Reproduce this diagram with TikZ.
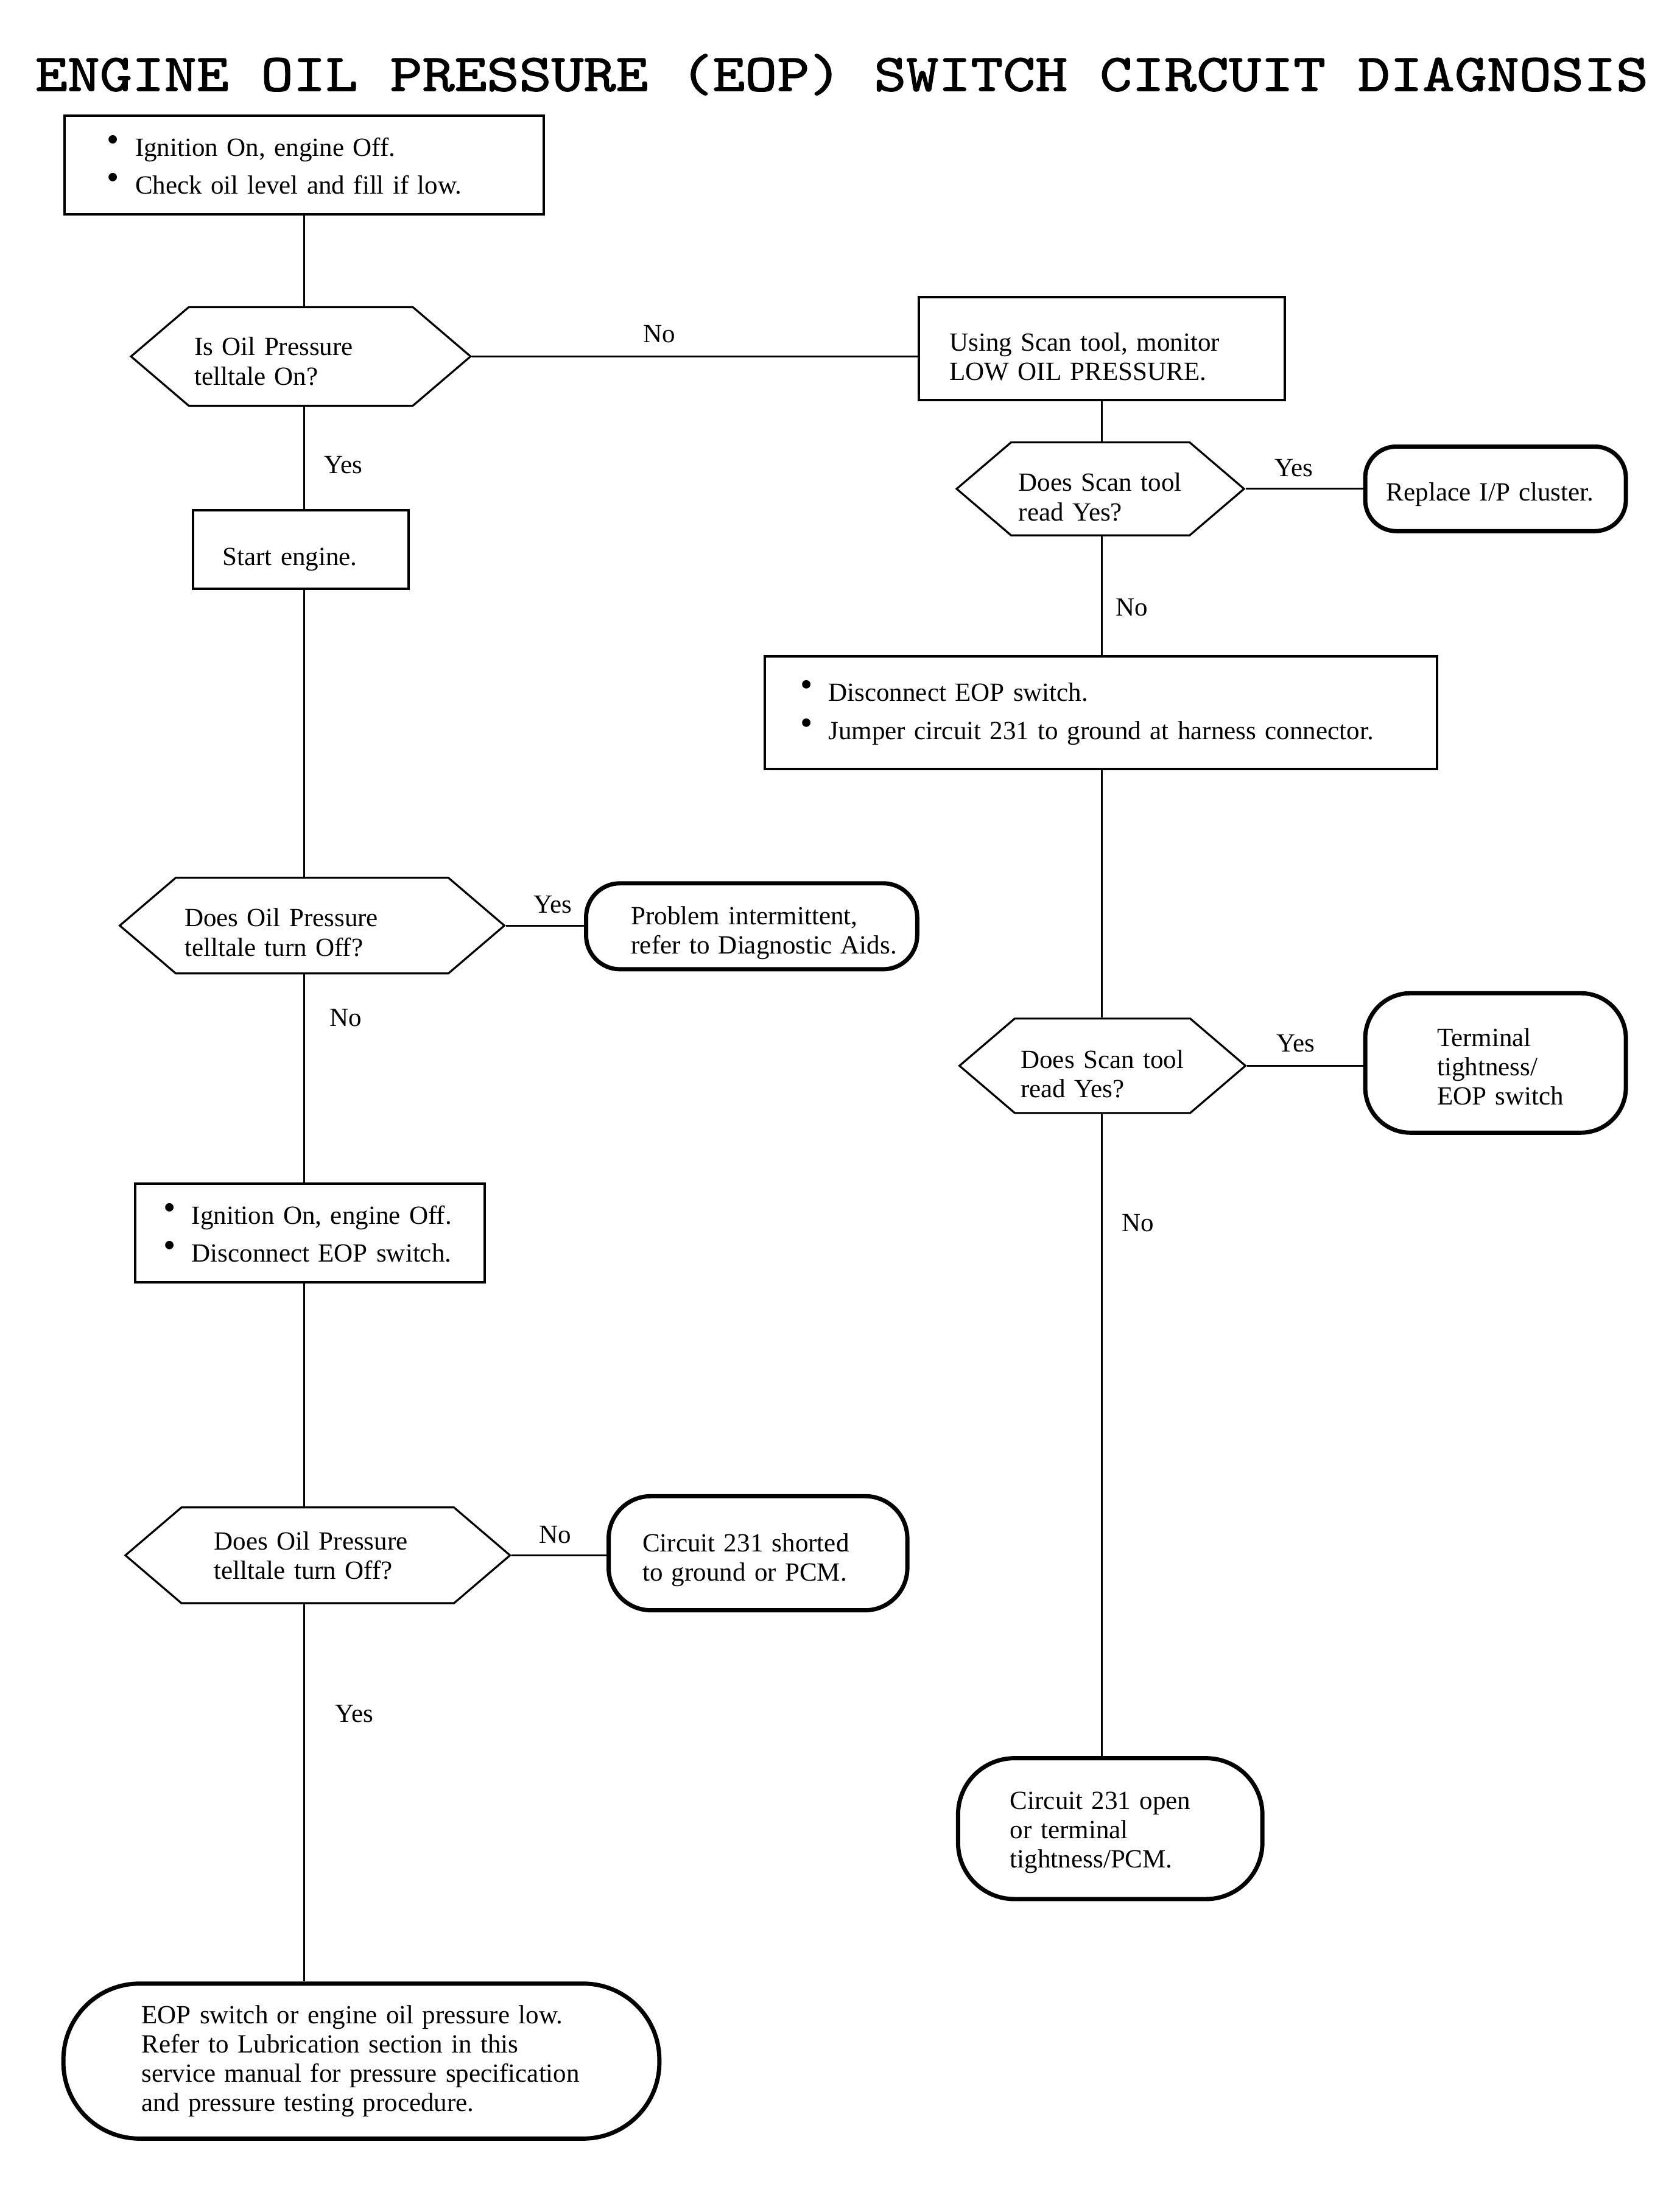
\documentclass[tikz,border=0pt]{standalone}
\usepackage{fontspec}
\setmainfont{Liberation Serif}
\newfontfamily\titlefont[FakeStretch=1.16, FakeBold=1.6]{lmmono10-regular.otf}
\usetikzlibrary{shapes.symbols}

\newcommand{\bul}{\makebox[10pt][l]{\raisebox{1.75pt}{\fontsize{12.5}{12.5}\selectfont\textbullet}}}

\tikzset{
	every node/.style={font=\fontsize{9.3pt}{10.4pt}\selectfont},
	stepbox/.style={draw, line width=.85pt, rectangle, align=left, inner ysep=0pt},
	query/.style={draw, line width=.7pt, signal, signal to=east and west, signal pointer angle=81, align=left, inner sep=0pt},
	endbox/.style={draw, line width=1.5pt, rectangle, align=left, inner ysep=0pt},
	sink/.style={execute at begin node={\rule{0pt}{#1}}},
	wire/.style={line width=.6pt},
	lbl/.style={inner sep=0pt},
}

\begin{document}
\begin{tikzpicture}[x=.5pt,y=-.5pt]
	\useasboundingbox (0,0) rectangle (1192,1568);
	\node[font=\titlefont\fontsize{18.8pt}{19pt}\selectfont] (title) at (597.5,53) {ENGINE OIL PRESSURE (EOP) SWITCH CIRCUIT DIAGNOSIS};
	
	% left column
	\node[stepbox, inner xsep=15pt, text width=140pt, minimum height=35pt] (check) at (216,117)
		{\bul Ignition On, engine Off.\\[3.1pt]\bul Check oil level and fill if low.};
	\node[query, sink=9.9pt, text width=75.5pt, minimum width=120.5pt, minimum height=35pt] (telltale) at (213.5,253)
		{Is Oil Pressure\\telltale On?};
	\node[stepbox, sink=13.3pt, inner xsep=10.5pt, text width=55.5pt, minimum height=28pt] (start) at (213.5,390) {Start engine.};
	\node[query, sink=11.3pt, text width=90.5pt, minimum width=136.5pt, minimum height=34pt] (offrun) at (221.5,657)
		{Does Oil Pressure\\telltale turn Off?};
	\node[endbox, sink=11.3pt, rounded corners=12pt, inner xsep=16pt, text width=85.5pt, minimum height=30.5pt] (intermit) at (533.5,657.5)
		{\mbox{Problem intermittent,}\\\mbox{refer to Diagnostic Aids.}};
	\node[stepbox, inner xsep=10pt, text width=104pt, minimum height=35pt] (unplug) at (220,875)
		{\bul Ignition On, engine Off.\\[3.1pt]\bul Disconnect EOP switch.};
	\node[query, text width=73.5pt, minimum width=136.5pt, minimum height=34pt] (offkey) at (225.5,1104)
		{Does Oil Pressure\\telltale turn Off?};
	\node[endbox, sink=11.3pt, rounded corners=15pt, inner xsep=12pt, text width=82pt, minimum height=40.5pt] (shorted) at (538,1102.5)
		{Circuit 231 shorted\\to ground or PCM.};
	\node[endbox, rounded corners=27pt, inner xsep=27.75pt, text width=156pt, minimum height=55pt] (lowpress) at (256.5,1463)
		{EOP switch or engine oil pressure low.\\Refer to Lubrication section in this\\service manual for pressure specification\\and pressure testing procedure.};
	
	% right column
	\node[stepbox, sink=12.3pt, inner xsep=11pt, text width=108pt, minimum height=36.5pt] (monitor) at (782,247.5)
		{Using Scan tool, monitor\\LOW OIL PRESSURE.};
	\node[query, sink=12.3pt, text width=58pt, minimum width=102pt, minimum height=33pt] (scanA) at (781,347)
		{Does Scan tool\\read Yes?};
	\node[endbox, sink=10.4pt, rounded corners=11pt, inner xsep=7.5pt, text width=77.5pt, minimum height=30pt] (cluster) at (1061.5,347)
		{Replace I/P cluster.};
	\node[stepbox, inner xsep=12.5pt, text width=213.5pt, minimum height=40pt] (jumper) at (781.5,506)
		{\bul Disconnect EOP switch.\\[3.1pt]\bul Jumper circuit 231 to ground at harness connector.};
	\node[query, sink=12.3pt, text width=58pt, minimum width=101.5pt, minimum height=33.5pt] (scanB) at (782.5,756.5)
		{Does Scan tool\\read Yes?};
	\node[endbox, sink=8.9pt, rounded corners=16pt, inner xsep=25.5pt, text width=41.5pt, minimum height=49.5pt] (tight) at (1061.5,754.5)
		{Terminal\\tightness/\\\mbox{EOP switch}};
	\node[endbox, sink=8.9pt, rounded corners=20pt, inner xsep=18.5pt, text width=71pt, minimum height=50pt] (opencir) at (788,1298)
		{Circuit 231 open\\or terminal\\tightness/PCM.};
	
	% connectors
	\draw[wire] (check.south) -- (check.south |- telltale.north);
	\draw[wire] (check.south |- telltale.south) -- node[lbl, pos=.57, right=6.75pt] {Yes} (check.south |- start.north);
	\draw[wire] (check.south |- start.south) -- (check.south |- offrun.north);
	\draw[wire] (offrun.east) -- node[lbl, pos=.6, above=4pt] {Yes} (offrun.east -| intermit.west);
	\draw[wire] (check.south |- offrun.south) -- node[lbl, pos=.21, right=8.75pt] {No} (check.south |- unplug.north);
	\draw[wire] (check.south |- unplug.south) -- (check.south |- offkey.north);
	\draw[wire] (offkey.east) -- node[lbl, pos=.46, above=4pt] {No} (offkey.east -| shorted.west);
	\draw[wire] (check.south |- offkey.south) -- node[lbl, pos=.29, right=10.75pt] {Yes} (check.south |- lowpress.north);
	
	\draw[wire] (telltale.east) -- node[lbl, pos=.42, above=4.5pt] {No} (telltale.east -| monitor.west);
	\draw[wire] (monitor.south) -- (monitor.south |- scanA.north);
	\draw[wire] (scanA.east) -- node[lbl, pos=.41, above=4pt] {Yes} (scanA.east -| cluster.west);
	\draw[wire] (monitor.south |- scanA.south) -- node[lbl, pos=.6, right=4.75pt] {No} (monitor.south |- jumper.north);
	\draw[wire] (monitor.south |- jumper.south) -- (monitor.south |- scanB.north);
	\draw[wire] (scanB.east) -- node[lbl, pos=.42, above=4.5pt] {Yes} (scanB.east -| tight.west);
	\draw[wire] (monitor.south |- scanB.south) -- node[lbl, pos=.17, right=6.75pt] {No} (monitor.south |- opencir.north);
\end{tikzpicture}
\end{document}
